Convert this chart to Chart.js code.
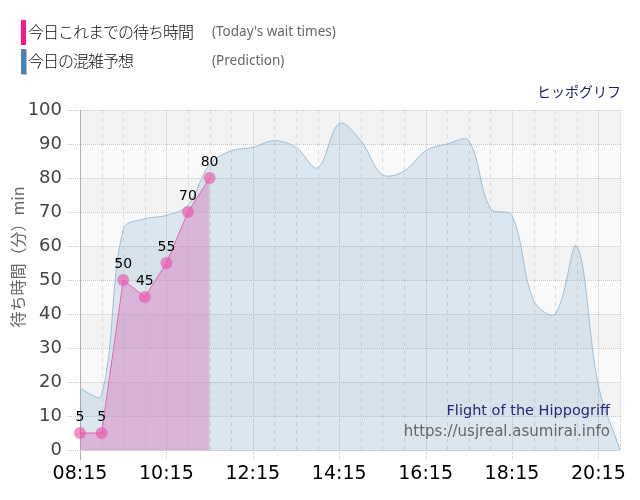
<!DOCTYPE html>
<html>
<head>
<meta charset="utf-8">
<script src="https://cdn.jsdelivr.net/npm/chart.js@4"></script>
<style>
  html, body { margin: 0; padding: 0; background: #fff; }
  #wrap { width: 640px; height: 500px; }
</style>
</head>
<body>
<div id="wrap"><canvas id="waitChart"></canvas></div>
<script>
// 時刻ラベル (30分おき)
const timeLabels = [
  '08:15', '08:45', '09:15', '09:45', '10:15', '10:45', '11:15', '11:45',
  '12:15', '12:45', '13:15', '13:45', '14:15', '14:45', '15:15', '15:45',
  '16:15', '16:45', '17:15', '17:45', '18:15', '18:45', '19:15', '19:45',
  '20:15', '20:45',
];
// 今日これまでの待ち時間
const todayWait = [5, 5, 50, 45, 55, 70, 80];
// 今日の混雑予想
const prediction = [
  18, 16, 65, 68, 69, 72, 84, 88, 89, 91, 89, 83, 96, 91, 81, 82,
  88, 90, 91, 71, 69, 44, 40, 60, 19, 0,
];
const yTicks = [0, 10, 20, 30, 40, 50, 60, 70, 80, 90, 100];

const LATIN = '"DejaVu Sans", Verdana, sans-serif';
const JP = '"Noto Sans CJK JP", sans-serif';

const deco = {
  id: 'deco',
  beforeDraw(chart) {
    const { ctx, chartArea: a, scales } = chart;
    const y = scales.y;
    ctx.save();
    for (let i = 0; i < yTicks.length - 1; i += 1) {
      const top = y.getPixelForValue(yTicks[i + 1]);
      const bot = y.getPixelForValue(yTicks[i]);
      ctx.fillStyle = (i % 2 === 1) ? '#f3f3f3' : '#f9f9f9';
      ctx.fillRect(a.left, top, a.right - a.left, bot - top);
    }
    ctx.restore();
  },
  beforeDatasetsDraw(chart) {
    const { ctx, chartArea: a, scales } = chart;
    const x = scales.x, y = scales.y;
    ctx.save();
    ctx.lineWidth = 1;
    // 縦線
    for (let i = 1; i < timeLabels.length; i += 1) {
      const px = Math.round(x.getPixelForValue(i)) + 0.5;
      const major = i % 4 === 0 || i === timeLabels.length - 1;
      ctx.strokeStyle = major ? '#c8c8c8' : '#dddddd';
      ctx.setLineDash(major ? [1, 1] : [4, 4]);
      ctx.beginPath();
      ctx.moveTo(px, a.top);
      ctx.lineTo(px, (i % 4 === 0) ? a.bottom + 10 : a.bottom);
      ctx.stroke();
    }
    // 横線
    ctx.strokeStyle = '#c8c8c8';
    ctx.setLineDash([1, 1]);
    yTicks.forEach((v) => {
      const py = Math.round(y.getPixelForValue(v)) + 0.5;
      ctx.beginPath();
      ctx.moveTo(a.left - 13, py);
      ctx.lineTo(a.right, py);
      ctx.stroke();
    });
    // 軸線
    ctx.setLineDash([]);
    ctx.strokeStyle = '#b0b0b0';
    ctx.beginPath();
    ctx.moveTo(a.left + 0.5, a.top);
    ctx.lineTo(a.left + 0.5, a.bottom + 10);
    ctx.stroke();
    ctx.strokeStyle = '#d0d0d0';
    ctx.beginPath();
    ctx.moveTo(a.left, Math.round(a.bottom) + 0.5);
    ctx.lineTo(a.right, Math.round(a.bottom) + 0.5);
    ctx.stroke();
    ctx.restore();
  },
  afterDatasetsDraw(chart) {
    const { ctx } = chart;
    const meta = chart.getDatasetMeta(0);
    ctx.save();
    ctx.font = '14px ' + LATIN;
    ctx.fillStyle = '#000';
    ctx.textAlign = 'center';
    ctx.textBaseline = 'alphabetic';
    meta.data.forEach((pt, i) => {
      ctx.fillText(String(todayWait[i]), pt.x, pt.y - 12);
    });
    ctx.restore();
  },
  afterDraw(chart) {
    const { ctx } = chart;
    ctx.save();
    // 凡例
    ctx.fillStyle = '#ff1493';
    ctx.fillRect(21, 20, 5, 25);
    ctx.fillStyle = '#bbbbbb';
    ctx.fillRect(22, 50, 5, 25);
    ctx.fillStyle = '#4682b4';
    ctx.fillRect(21, 49, 5, 25);
    ctx.textBaseline = 'middle';
    ctx.textAlign = 'left';
    ctx.fillStyle = '#111';
    ctx.font = '300 16px ' + JP;
    ctx.letterSpacing = '-1px';
    ctx.fillText('今日これまでの待ち時間', 28, 32);
    ctx.fillText('今日の混雑予想', 28, 61);
    ctx.letterSpacing = '0px';
    ctx.fillStyle = '#666';
    ctx.font = '13.5px "Noto Sans", sans-serif';
    ctx.fillText("(Today's wait times)", 212, 32);
    ctx.fillText('(Prediction)', 212, 61);
    // アトラクション名
    ctx.textAlign = 'right';
    ctx.fillStyle = '#1c1c6c';
    ctx.font = '14px ' + JP;
    ctx.fillText('ヒッポグリフ', 621, 92);
    // 右下の表記
    ctx.textBaseline = 'alphabetic';
    ctx.font = '14.5px ' + LATIN;
    ctx.fillStyle = '#25257a';
    ctx.fillText('Flight of the Hippogriff', 610, 415);
    ctx.font = '15px ' + LATIN;
    ctx.fillStyle = '#666';
    ctx.fillText('https://usjreal.asumirai.info', 610, 436);
    // 縦軸タイトル
    ctx.translate(18, 257);
    ctx.rotate(-Math.PI / 2);
    ctx.textAlign = 'center';
    ctx.textBaseline = 'middle';
    ctx.fillStyle = '#666';
    ctx.font = '16px ' + JP;
    ctx.fillText('待ち時間（分）min', 0, 0);
    ctx.restore();
  },
};

const ctx = document.getElementById('waitChart').getContext('2d');
new Chart(ctx, {
  type: 'line',
  data: {
    labels: timeLabels,
    datasets: [
      {
        label: '今日これまでの待ち時間',
        data: todayWait,
        borderColor: 'rgba(230, 90, 175, 0.9)',
        borderWidth: 1,
        backgroundColor: 'rgba(215, 140, 200, 0.55)',
        fill: 'origin',
        tension: 0,
        pointRadius: 6,
        pointBorderWidth: 0,
        pointBackgroundColor: 'rgba(235, 85, 170, 0.65)',
        order: 0,
      },
      {
        label: '今日の混雑予想',
        data: prediction,
        borderColor: 'rgba(150, 185, 212, 0.9)',
        borderWidth: 1,
        backgroundColor: 'rgba(70, 130, 180, 0.16)',
        fill: 'origin',
        tension: 0.35,
        pointRadius: 0,
        order: 1,
      },
    ],
  },
  options: {
    responsive: true,
    maintainAspectRatio: false,
    animation: false,
    layout: { padding: { top: 110, right: 20, left: 0, bottom: 0 } },
    plugins: {
      legend: { display: false },
      tooltip: { enabled: false },
    },
    scales: {
      x: {
        offset: false,
        grid: { display: false, drawTicks: false },
        border: { display: false },
        afterFit(scale) { scale.height = 50; },
        ticks: {
          autoSkip: false,
          maxRotation: 0,
          padding: 13,
          color: '#000',
          font: { family: LATIN, size: 19 },
          callback: (v, i) => (i % 4 === 0 ? timeLabels[i] : ''),
        },
      },
      y: {
        min: 0,
        max: 100,
        grid: { display: false, drawTicks: false },
        border: { display: false },
        afterFit(scale) { scale.width = 80; },
        ticks: {
          stepSize: 10,
          padding: 18,
          color: '#444',
          font: { family: LATIN, size: 18 },
        },
      },
    },
  },
  plugins: [deco],
});
</script>
</body>
</html>
